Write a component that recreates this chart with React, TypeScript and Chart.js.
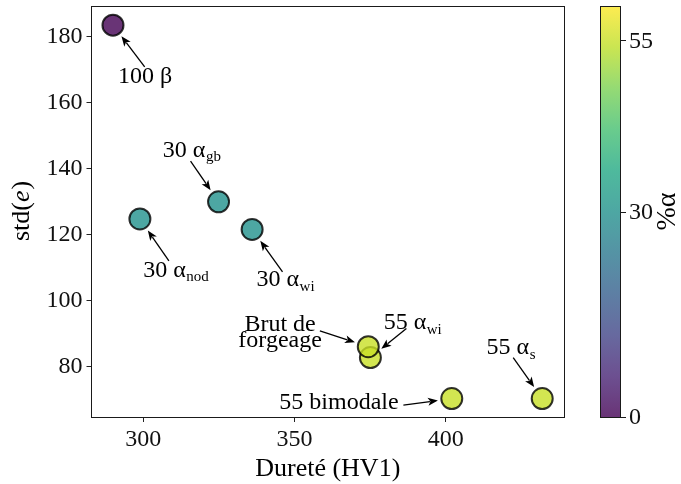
import React, { useEffect, useRef } from "react";
import { Chart, registerables } from "chart.js";
Chart.register(...registerables);

// ---- data ----
const labelMain = ["100 β", "30 α", "30 α", "30 α", "55 α", "Brut de\nforgeage", "55 bimodale", "55 α"];
const labelSub = ["", "nod", "gb", "wi", "wi", "", "", "s"];
const hardness = [290, 298.9, 324.9, 336.0, 375.1, 374.4, 402.0, 431.9];
const stdE = [183.5, 124.8, 130.0, 121.6, 82.8, 86.1, 70.4, 70.4];
const alphaPct = [0, 30, 30, 30, 55, 55, 55, 55];
const xTicks = [300, 350, 400];
const yTicks = [80, 100, 120, 140, 160, 180];
const cbTicks = [0, 30, 55];
const cbMin = 0;
const cbMax = 60;

// annotation placement (pixel offsets from the point): text anchor, arrow start
const annText = [
  [32.2, 58.3, "center"],
  [3.3, 57.7, "left"],
  [-55.7, -45, "left"],
  [4.4, 56.7, "left"],
  [13.3, -28.3, "left"],
  [-88.2, -15.5, "center"],
  [-172.4, 10, "left"],
  [-55.6, -44.3, "left"],
];
const annArrow = [
  [31.7, 41.7],
  [29, 42],
  [-28, -40.7],
  [30.4, 42.4],
  [36, -29],
  [-48.4, -15.7],
  [-48.4, 6.7],
  [-29, -41],
];

const FONT = "'Liberation Serif', 'Times New Roman', serif";

const VIRIDIS = [
  [68, 1, 84], [72, 36, 117], [65, 68, 135], [53, 95, 141], [42, 120, 142],
  [33, 145, 140], [34, 168, 132], [68, 191, 112], [122, 209, 81], [189, 223, 38], [253, 231, 37],
];
function viridis(t: number, a = 0.8) {
  t = Math.max(0, Math.min(1, t));
  const p = t * 10;
  const i = Math.min(9, Math.floor(p));
  const f = p - i;
  const c0 = VIRIDIS[i], c1 = VIRIDIS[i + 1];
  const c = c0.map((v, k) => Math.round(v + (c1[k] - v) * f));
  return `rgba(${c[0]},${c[1]},${c[2]},${a})`;
}

const decorPlugin = {
  id: "decor",
  afterDatasetsDraw(chart: any) {
    const ctx = chart.ctx;
    const { left, right, top, bottom } = chart.chartArea;
    const xs = chart.scales.x, ys = chart.scales.y;
    ctx.save();
    // frame
    ctx.strokeStyle = "#1a1a1a";
    ctx.lineWidth = 1;
    ctx.strokeRect(Math.floor(left) + 0.5, Math.floor(top) + 0.5, Math.round(right - left), Math.round(bottom - top));

    // annotations
    ctx.fillStyle = "#000";
    ctx.strokeStyle = "#000";
    for (let i = 0; i < hardness.length; i++) {
      const px = xs.getPixelForValue(hardness[i]);
      const py = ys.getPixelForValue(stdE[i]);
      const [tx, ty, align] = annText[i] as any;
      const lines = String(labelMain[i]).split("\n");
      ctx.font = `24px ${FONT}`;
      ctx.textBaseline = "alphabetic";
      if (lines.length > 1) {
        ctx.textAlign = "center";
        lines.forEach((ln, k) => ctx.fillText(ln, px + tx, py + ty + k * 16));
      } else {
        const mainW = ctx.measureText(lines[0]).width;
        ctx.font = `15px ${FONT}`;
        const subW = labelSub[i] ? ctx.measureText(labelSub[i]).width : 0;
        let x0 = px + tx;
        if (align === "center") x0 -= (mainW + subW) / 2;
        ctx.textAlign = "left";
        ctx.font = `24px ${FONT}`;
        ctx.fillText(lines[0], x0, py + ty);
        if (labelSub[i]) {
          ctx.font = `15px ${FONT}`;
          ctx.fillText(labelSub[i], x0 + mainW + 0.5, py + ty + 4.5);
        }
      }
      // arrow
      const sx = px + annArrow[i][0], sy = py + annArrow[i][1];
      const dx = px - sx, dy = py - sy;
      const len = Math.hypot(dx, dy);
      const ux = dx / len, uy = dy / len;
      const tipX = px - ux * 14, tipY = py - uy * 14;
      const hl = 10, hw = 4;
      const bx = tipX - ux * hl, by = tipY - uy * hl;
      ctx.lineWidth = 1.3;
      ctx.beginPath();
      ctx.moveTo(sx, sy);
      ctx.lineTo(bx + ux * 2, by + uy * 2);
      ctx.stroke();
      ctx.beginPath();
      ctx.moveTo(tipX, tipY);
      ctx.lineTo(bx - uy * hw, by + ux * hw);
      ctx.lineTo(bx + ux * 2.5, by + uy * 2.5);
      ctx.lineTo(bx + uy * hw, by - ux * hw);
      ctx.closePath();
      ctx.fill();
    }

    // axis titles
    ctx.fillStyle = "#000";
    ctx.textAlign = "center";
    ctx.textBaseline = "alphabetic";
    ctx.font = `26px ${FONT}`;
    ctx.fillText("Dureté (HV1)", (left + right) / 2, 476);

    ctx.save();
    ctx.translate(29, (top + bottom) / 2);
    ctx.rotate(-Math.PI / 2);
    const p1 = "std(", p2 = "e", p3 = ")";
    ctx.font = `26px ${FONT}`;
    const w1 = ctx.measureText(p1).width, w3 = ctx.measureText(p3).width;
    ctx.font = `italic 26px ${FONT}`;
    const w2 = ctx.measureText(p2).width;
    let x = -(w1 + w2 + w3) / 2;
    ctx.textAlign = "left";
    ctx.font = `26px ${FONT}`;
    ctx.fillText(p1, x, 0);
    x += w1;
    ctx.font = `italic 26px ${FONT}`;
    ctx.fillText(p2, x, 0);
    x += w2 + 1;
    ctx.font = `26px ${FONT}`;
    ctx.fillText(p3, x, 0);
    ctx.restore();

    // colorbar
    const cbL = 600, cbR = 621;
    const cbT = top, cbB = bottom;
    const grad = ctx.createLinearGradient(0, cbB, 0, cbT);
    for (let k = 0; k <= 20; k++) grad.addColorStop(k / 20, viridis(k / 20));
    ctx.fillStyle = grad;
    ctx.fillRect(cbL, cbT, cbR - cbL, cbB - cbT);
    ctx.strokeStyle = "#1a1a1a";
    ctx.lineWidth = 1;
    ctx.strokeRect(cbL + 0.5, Math.floor(cbT) + 0.5, cbR - cbL - 1, Math.round(cbB - cbT));
    ctx.font = `24px ${FONT}`;
    ctx.textAlign = "left";
    ctx.textBaseline = "middle";
    ctx.fillStyle = "#111";
    for (const v of cbTicks) {
      const y = cbB - ((v - cbMin) / (cbMax - cbMin)) * (cbB - cbT);
      ctx.beginPath();
      ctx.moveTo(cbR, Math.round(y) + 0.5);
      ctx.lineTo(cbR + 5, Math.round(y) + 0.5);
      ctx.stroke();
      ctx.fillText(String(v), cbR + 8, y + 1);
    }
    ctx.save();
    ctx.translate(675, (cbT + cbB) / 2);
    ctx.rotate(-Math.PI / 2);
    ctx.textAlign = "center";
    ctx.textBaseline = "alphabetic";
    ctx.font = `28px ${FONT}`;
    ctx.fillStyle = "#000";
    ctx.fillText("%α", 0, 0);
    ctx.restore();

    ctx.restore();
  },
};

export default function App() {
  const ref = useRef<HTMLCanvasElement>(null);
  useEffect(() => {
    document.body.style.margin = "0";
    const points = hardness.map((h, i) => ({ x: h, y: stdE[i] }));
    const colors = alphaPct.map((a) => viridis((a - cbMin) / (cbMax - cbMin)));
    const tickFont = { family: FONT, size: 24 };
    const chart = new Chart(ref.current!, {
      type: "scatter",
      data: {
        datasets: [
          {
            data: points,
            backgroundColor: colors,
            borderColor: "rgba(0,0,0,0.8)",
            borderWidth: 2,
            pointRadius: 10.5,
            pointHoverRadius: 10.5,
          },
        ],
      },
      options: {
        animation: false,
        responsive: false,
        events: [],
        layout: { autoPadding: false, padding: { left: 0, right: 117, top: 6, bottom: 0 } },
        plugins: { legend: { display: false }, tooltip: { enabled: false } },
        scales: {
          x: {
            type: "linear",
            min: 282.9,
            max: 439.1,
            afterFit: (s: any) => { s.height = 67; s.paddingLeft = 0; s.paddingRight = 0; },
            afterBuildTicks: (s: any) => { s.ticks = xTicks.map((v) => ({ value: v })); },
            grid: { drawOnChartArea: false, drawTicks: true, tickLength: 5, color: "#222", lineWidth: 1 },
            border: { display: false },
            ticks: { font: tickFont, color: "#111", padding: 3, maxRotation: 0, autoSkip: false },
          },
          y: {
            type: "linear",
            min: 64.8,
            max: 189.3,
            afterFit: (s: any) => { s.width = 91.5; s.paddingTop = 0; s.paddingBottom = 0; },
            afterBuildTicks: (s: any) => { s.ticks = yTicks.map((v) => ({ value: v })); },
            grid: { drawOnChartArea: false, drawTicks: true, tickLength: 5, color: "#222", lineWidth: 1 },
            border: { display: false },
            ticks: { font: tickFont, color: "#111", padding: 4, autoSkip: false },
          },
        },
      },
      plugins: [decorPlugin],
    });
    return () => chart.destroy();
  }, []);
  return (
    <div style={{ width: 681, height: 484 }}>
      <canvas ref={ref} width={681} height={484} style={{ display: "block" }} />
    </div>
  );
}
